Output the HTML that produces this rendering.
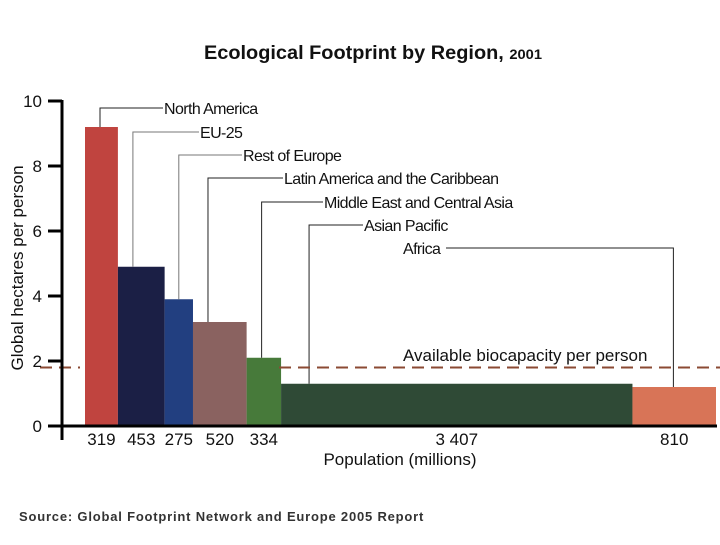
<!DOCTYPE html>
<html><head><meta charset="utf-8"><style>
body{margin:0;background:#fff;width:720px;height:540px;overflow:hidden;font-family:"Liberation Sans",sans-serif}
</style></head><body>
<svg width="720" height="540" xmlns="http://www.w3.org/2000/svg" id="chart" font-family="Liberation Sans, sans-serif">
<text x="373" y="59" text-anchor="middle" font-size="19" font-weight="bold" fill="#111" textLength="338" lengthAdjust="spacingAndGlyphs">Ecological Footprint by Region, <tspan font-size="14">2001</tspan></text>
<g id="bars"></g>
<g id="axes"></g>
<text x="19" y="521" font-size="13" font-weight="bold" fill="#333" letter-spacing="0.8">Source: Global Footprint Network and  Europe  2005 Report</text>
</svg>
<script>
const regions=["North America","EU-25","Rest of Europe","Latin America and the Caribbean","Middle East and Central Asia","Asian Pacific","Africa"];
const population=[319,453,275,520,334,3407,810];
const popLabels=["319","453","275","520","334","3 407","810"];
const footprint=[9.2,4.9,3.9,3.2,2.1,1.3,1.2];
const biocapacity=1.8;
const yTicks=[0,2,4,6,8,10];
const colors=["#c0443f","#1b1f45","#223f80","#8a6260","#477a3a","#2f4a36","#d87457"];
const labelY=[108,132,155,178,202,225,248];
const labelX=[164,200,243,284,324,364,403];
const NS="http://www.w3.org/2000/svg";
const svg=document.getElementById('chart');
const gb=document.getElementById('bars'),ga=document.getElementById('axes');
const x0=85,xEnd=716,y0=426,yTop=101;
const total=population.reduce((a,b)=>a+b,0);
const xs=v=>x0+v*(xEnd-x0)/total;
const ys=v=>y0-v*(y0-yTop)/10;
function mk(tag,attrs,parent){const e=document.createElementNS(NS,tag);for(const k in attrs)e.setAttribute(k,attrs[k]);parent.appendChild(e);return e;}
let cum=0;
population.forEach((p,i)=>{
  const xa=xs(cum),xb=xs(cum+p);cum+=p;
  const r=mk('rect',{x:xa,y:ys(footprint[i]),width:xb-xa,height:y0-ys(footprint[i]),fill:colors[i]},gb);
  
  
  const t=mk('text',{x:(xa+xb)/2,y:445,'text-anchor':'middle','font-size':17,fill:'#111'},ga);
  t.textContent=popLabels[i];
  
  
  // leader line
  const lx=i===6?xa+(xb-xa)*0.49:xa+Math.min(15,(xb-xa)*0.5)+(i===5?13:0);
  const startX=i===6?labelX[i]+43:labelX[i]-1;
  const pl=mk('polyline',{points:`${lx},${ys(footprint[i])} ${lx},${labelY[i]} ${startX},${labelY[i]}`,fill:'none',stroke:(i===1||i===2)?'#777':'#222','stroke-width':1},gb);
  
  
  const lt=mk('text',{x:labelX[i],y:labelY[i]+6,'font-size':16,fill:'#111','letter-spacing':'-0.6'},gb);
  lt.textContent=regions[i];
  
  
});
// dashed biocapacity
[[40,80],[279,720]].forEach(s=>{
  const d=mk('line',{x1:s[0],x2:s[1],y1:ys(biocapacity),y2:ys(biocapacity),stroke:'#8b4a33','stroke-width':2,'stroke-dasharray':'12 7'},gb);
  
  
});
const bt=mk('text',{x:403,y:361,'font-size':17,fill:'#111'},gb);
bt.textContent='Available biocapacity per person';


// axes
const ya=mk('line',{x1:62,x2:62,y1:yTop-1,y2:440,stroke:'#000','stroke-width':3},ga);


const xa=mk('line',{x1:48,x2:717,y1:y0,y2:y0,stroke:'#000','stroke-width':3},ga);


yTicks.forEach(v=>{
  const tk=mk('line',{x1:48,x2:62,y1:ys(v),y2:ys(v),stroke:'#000','stroke-width':3},ga);
  
  
  const tl=mk('text',{x:42,y:ys(v)+6,'text-anchor':'end','font-size':17,fill:'#111'},ga);
  tl.textContent=String(v);
  
  
});
const yt=mk('text',{x:23,y:268,'text-anchor':'middle','font-size':17,fill:'#111',transform:'rotate(-90 23 268)'},ga);
yt.textContent='Global hectares per person';


const xt=mk('text',{x:400,y:465,'text-anchor':'middle','font-size':17,fill:'#111'},ga);
xt.textContent='Population (millions)';


</script>
</body></html>
